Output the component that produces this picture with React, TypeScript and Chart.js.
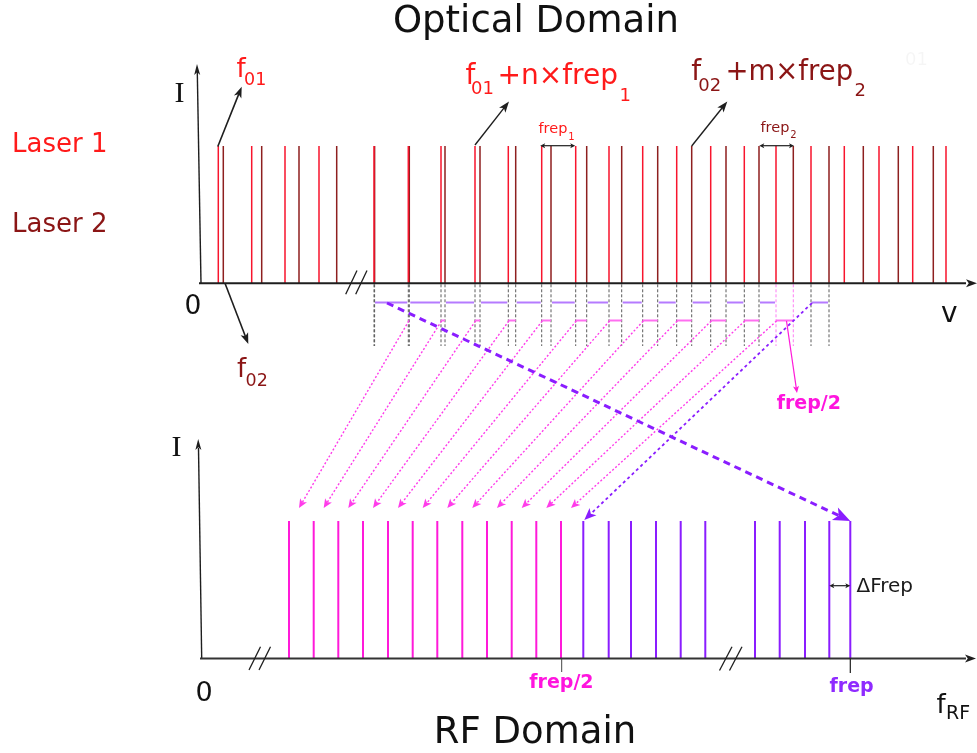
import React, { useEffect, useRef } from 'react';
import { Chart, registerables } from 'chart.js';

Chart.register(...registerables);

const W = 977;
const H = 753;

// ---- Optical domain comb lines (frequency axis, diagram units) ----
const laser1Lines = [218.3, 251.7, 285, 319, 374, 408.3, 441, 475, 508.3, 541.7, 575.7, 609, 642.7, 676.7, 710.7, 744.3, 776, 811, 844.3, 879, 912.7, 946];
const laser2Lines = [223.3, 261.7, 299, 336.7, 374.6, 409.3, 445, 480, 515.7, 551, 586.7, 621.7, 657.7, 691.7, 726, 759, 793.3, 829, 863.3, 898.3, 933.3];
const opticalBase = 283.3;
const opticalTop = 146;

// ---- Beat notes between the two combs ----
const purpleGaps: [number, number][] = [
  [374, 408.3], [409.3, 441], [445, 475], [480, 508.3], [515.7, 541.7], [551, 575.7],
  [586.7, 609], [621.7, 642.7], [657.7, 676.7], [691.7, 710.7], [726, 744.3], [759, 776], [811, 829],
];
const magentaGaps: [number, number][] = [
  [408.3, 409.3], [441, 445], [475, 480], [508.3, 515.7], [541.7, 551], [575.7, 586.7],
  [609, 621.7], [642.7, 657.7], [676.7, 691.7], [710.7, 726], [744.3, 759], [776, 793.3],
];
const frepHalfPair = [776, 793.3];

// ---- RF domain lines ----
const rfMagentaLines = [289, 313.7, 338.3, 363, 388, 412.7, 437.3, 462.3, 487, 511.7, 536.3, 561];
const rfPurpleLines = [583.3, 608.7, 631, 656, 680.7, 705.3, 755, 779.7, 805, 829.3, 850.3];
const rfBase = 658.5;
const rfTop = 521;

const RED = '#f8152d';
const RED_TXT = '#ff1a1a';
const DARK = '#8e1f1f';
const DARK_TXT = '#8b1515';
const MAG = '#ff1ad9';
const MAG_TXT = '#ff14de';
const PUR = '#8a1dff';
const PUR_TXT = '#8f2bff';
const AX = '#1e1e1e';
const SANS = '"DejaVu Sans", Verdana, sans-serif';

function combData(xs: number[], base: number, top: number) {
  const d: any[] = [];
  xs.forEach((x) => {
    d.push({ x, y: base }, { x, y: top }, { x, y: null });
  });
  return d;
}

function seg(ctx: any, x1: number, y1: number, x2: number, y2: number, color: string, width: number, dash: number[] = []) {
  ctx.save();
  ctx.strokeStyle = color;
  ctx.lineWidth = width;
  ctx.setLineDash(dash);
  ctx.beginPath();
  ctx.moveTo(x1, y1);
  ctx.lineTo(x2, y2);
  ctx.stroke();
  ctx.restore();
}

function head(ctx: any, x1: number, y1: number, x2: number, y2: number, color: string, len: number, half: number) {
  const a = Math.atan2(y2 - y1, x2 - x1);
  const c = Math.cos(a), s = Math.sin(a);
  ctx.save();
  ctx.fillStyle = color;
  ctx.beginPath();
  ctx.moveTo(x2, y2);
  ctx.lineTo(x2 - len * c + half * s, y2 - len * s - half * c);
  ctx.lineTo(x2 - len * 0.75 * c, y2 - len * 0.75 * s);
  ctx.lineTo(x2 - len * c - half * s, y2 - len * s + half * c);
  ctx.closePath();
  ctx.fill();
  ctx.restore();
}

function arrow(ctx: any, x1: number, y1: number, x2: number, y2: number, color: string, width: number, dash: number[], len: number, half: number) {
  const a = Math.atan2(y2 - y1, x2 - x1);
  const ex = x2 - Math.cos(a) * len * 0.7;
  const ey = y2 - Math.sin(a) * len * 0.7;
  seg(ctx, x1, y1, ex, ey, color, width, dash);
  head(ctx, x1, y1, x2, y2, color, len, half);
}

function dblArrow(ctx: any, x1: number, x2: number, y: number, color: string) {
  seg(ctx, x1 + 3, y, x2 - 3, y, color, 1.2);
  head(ctx, x2, y, x1, y, color, 5, 2.5);
  head(ctx, x1, y, x2, y, color, 5, 2.5);
}

function txt(ctx: any, s: string, x: number, y: number, size: number, color: string, opts: any = {}) {
  ctx.save();
  ctx.font = `${opts.bold ? 'bold ' : ''}${size}px ${opts.family || SANS}`;
  ctx.fillStyle = color;
  ctx.textAlign = opts.align || 'left';
  ctx.textBaseline = 'alphabetic';
  ctx.fillText(s, x, y);
  ctx.restore();
}

const diagramPlugin = {
  id: 'diagram',
  afterDatasetsDraw(chart: any) {
    const ctx = chart.ctx;
    const X = (v: number) => chart.scales.x.getPixelForValue(v);
    const Y = (v: number) => chart.scales.y.getPixelForValue(v);

    // ---------- axes ----------
    // optical
    seg(ctx, X(201), Y(opticalBase), X(197.3), Y(72), AX, 1.4);
    head(ctx, X(201), Y(opticalBase), X(197), Y(64), AX, 11, 3);
    seg(ctx, X(199), Y(opticalBase), X(966), Y(opticalBase), AX, 2);
    head(ctx, X(199), Y(opticalBase), X(977), Y(opticalBase), AX, 11, 4);
    // rf
    seg(ctx, X(201.7), Y(rfBase), X(198.5), Y(448), AX, 1.4);
    head(ctx, X(201.7), Y(rfBase), X(198.2), Y(439), AX, 11, 3);
    seg(ctx, X(200), Y(rfBase), X(966), Y(rfBase), '#333', 2);
    head(ctx, X(200), Y(rfBase), X(976), Y(rfBase), AX, 11, 4);

    // axis breaks
    const brk = (xa: number, y1: number, y2: number, dx: number) => {
      seg(ctx, X(xa), Y(y1), X(xa + dx), Y(y2), AX, 1.3);
      seg(ctx, X(xa + 10), Y(y1), X(xa + 10 + dx), Y(y2), AX, 1.3);
    };
    brk(345.7, 294.3, 270.5, 11.3);
    brk(249, 670, 646.7, 11.5);
    brk(719.5, 670.5, 646.7, 12.5);

    // ---------- beat gaps ----------
    purpleGaps.forEach(([a, b]) => {
      seg(ctx, X(a + 1), Y(302.5), X(b - 1), Y(302.5), '#b57aff', 2);
    });
    magentaGaps.forEach(([a, b]) => {
      seg(ctx, X(a), Y(320.5), X(b), Y(320.5), '#ff6ef0', 2);
    });

    // magenta dotted arrows optical -> RF
    magentaGaps.forEach(([a], i) => {
      arrow(ctx, X(a + 0.5), Y(321), X(rfMagentaLines[i] + 10), Y(508), '#ff3cea', 1.4, [2, 2], 9, 4);
    });

    // purple dotted arrow to frep/2 neighbour
    const lastGap = purpleGaps[purpleGaps.length - 1];
    arrow(ctx, X(lastGap[0] + 1), Y(303), X(rfPurpleLines[0] + 1), Y(520), PUR, 1.8, [3, 3], 12, 5);

    // purple dashed arrow to frep
    arrow(ctx, X(purpleGaps[0][0] + 13), Y(303), X(rfPurpleLines[rfPurpleLines.length - 1]), Y(521), PUR, 3, [7, 5], 17, 7);

    // frep/2 pointer
    arrow(ctx, X(786.5), Y(321), X(797), Y(393), MAG, 1.2, [], 7, 3);
    txt(ctx, 'frep/2', X(776.7), Y(409), 19, MAG_TXT, { bold: true });

    // ---------- optical annotations ----------
    arrow(ctx, X(laser1Lines[0] - 0.5), Y(opticalTop + 0.5), X(241.7), Y(86.7), AX, 1.6, [], 11, 4);
    arrow(ctx, X(laser2Lines[0] + 1.7), Y(opticalBase), X(248.3), Y(344), AX, 1.6, [], 11, 4);
    arrow(ctx, X(laser1Lines[7]), Y(opticalTop - 1), X(509), Y(101.5), AX, 1.4, [], 11, 4);
    arrow(ctx, X(laser2Lines[13]), Y(opticalTop), X(727.3), Y(101.5), AX, 1.4, [], 11, 4);

    dblArrow(ctx, X(laser1Lines[9] - 1.5), X(laser1Lines[10] - 0.5), Y(145.7), AX);
    dblArrow(ctx, X(laser2Lines[15] + 0.3), X(laser2Lines[16] + 0.7), Y(145.7), AX);

    // ---------- RF annotations ----------
    const half = rfMagentaLines[rfMagentaLines.length - 1];
    const full = rfPurpleLines[rfPurpleLines.length - 1];
    seg(ctx, X(half + 0.7), Y(rfBase), X(half + 0.7), Y(672), '#444', 1);
    seg(ctx, X(full), Y(rfBase), X(full), Y(673), AX, 1.2);
    dblArrow(ctx, X(rfPurpleLines[9]), X(full), Y(585.7), AX);

    // ---------- texts ----------
    txt(ctx, 'Optical Domain', X(536), Y(32.3), 37, '#111', { align: 'center' });
    txt(ctx, 'RF Domain', X(535), Y(743.3), 37, '#111', { align: 'center' });
    txt(ctx, 'Laser 1', X(12), Y(152.3), 26, RED_TXT);
    txt(ctx, 'Laser 2', X(12), Y(231.7), 26, DARK_TXT);

    const SERIF = '"Liberation Serif", "Times New Roman", serif';
    txt(ctx, 'I', X(174.5), Y(102.3), 30, '#111', { family: SERIF });
    txt(ctx, 'I', X(171.5), Y(455.5), 30, '#111', { family: SERIF });
    txt(ctx, '0', X(184.5), Y(314.3), 26.5, '#111');
    txt(ctx, '0', X(195.5), Y(701), 27, '#111');
    txt(ctx, 'v', X(941), Y(321.7), 28, '#111');
    txt(ctx, 'f', X(936.5), Y(713.3), 26, '#111');
    txt(ctx, 'RF', X(946), Y(719), 19, '#111');

    txt(ctx, 'f', X(236.5), Y(76.7), 26, RED_TXT);
    txt(ctx, '01', X(244), Y(85), 17.5, RED_TXT);
    txt(ctx, 'f', X(237), Y(377.3), 26, DARK_TXT);
    txt(ctx, '02', X(245.5), Y(385.7), 17.5, DARK_TXT);

    txt(ctx, 'f', X(465.5), Y(84.3), 28, RED_TXT);
    txt(ctx, '01', X(471), Y(94.3), 18, RED_TXT);
    txt(ctx, '+n×frep', X(497.5), Y(84.3), 28, RED_TXT);
    txt(ctx, '1', X(619.5), Y(101), 18, RED_TXT);

    txt(ctx, 'f', X(691.3), Y(80), 28, DARK_TXT);
    txt(ctx, '02', X(698.3), Y(90.7), 18, DARK_TXT);
    txt(ctx, '+m×frep', X(725.5), Y(80), 27.5, DARK_TXT);
    txt(ctx, '2', X(854.5), Y(95.5), 18, DARK_TXT);

    txt(ctx, 'frep', X(538.5), Y(133.3), 14.5, RED_TXT);
    txt(ctx, '1', X(568.3), Y(140), 10, RED_TXT);
    txt(ctx, 'frep', X(760.5), Y(131.5), 14.5, DARK_TXT);
    txt(ctx, '2', X(790.3), Y(138.3), 10, DARK_TXT);

    txt(ctx, 'frep/2', X(529.3), Y(688.3), 19, MAG_TXT, { bold: true });
    txt(ctx, 'frep', X(829.5), Y(691.7), 19, PUR_TXT, { bold: true });
    txt(ctx, 'ΔFrep', X(856.5), Y(592), 20, '#1a1a1a');

    txt(ctx, '01', X(905), Y(65), 18, 'rgba(0,0,0,0.04)');
  },
};

export default function App() {
  const ref = useRef<HTMLCanvasElement | null>(null);

  useEffect(() => {
    if (!ref.current) return;
    const guideXs = [...laser1Lines, ...laser2Lines].filter(
      (x) => x >= 370 && x <= 830 && !frepHalfPair.includes(x)
    );
    const mk = (data: any[], color: string, width: number, dash: number[] = []) => ({
      data,
      showLine: true,
      spanGaps: false,
      pointRadius: 0,
      borderColor: color,
      backgroundColor: color,
      borderWidth: width,
      borderDash: dash,
      borderCapStyle: 'butt',
    });
    const chart = new Chart(ref.current, {
      type: 'scatter',
      data: {
        datasets: [
          mk(combData(guideXs, opticalBase + 1, 346), '#5a5a5a', 1, [3, 2]),
          mk(combData(frepHalfPair, opticalBase + 1, 346), '#ff7cf4', 1, [3, 2]),
          mk(combData(laser1Lines, opticalBase, opticalTop), RED, 1.5),
          mk(combData(laser2Lines, opticalBase, opticalTop), DARK, 1.5),
          mk(combData(rfMagentaLines, rfBase, rfTop), MAG, 2),
          mk(combData(rfPurpleLines, rfBase, rfTop), PUR, 2),
        ] as any,
      },
      options: {
        animation: false,
        responsive: false,
        devicePixelRatio: 1,
        events: [],
        layout: { padding: 0 },
        plugins: {
          legend: { display: false },
          tooltip: { enabled: false },
          title: { display: false },
        },
        scales: {
          x: { type: 'linear', min: 0, max: W, display: false },
          y: { type: 'linear', min: 0, max: H, reverse: true, display: false },
        },
      } as any,
      plugins: [diagramPlugin],
    });
    return () => chart.destroy();
  }, []);

  return (
    <div style={{ position: 'fixed', left: 0, top: 0, width: W, height: H, background: '#fff' }}>
      <canvas ref={ref} width={W} height={H} style={{ display: 'block', width: W, height: H }} />
    </div>
  );
}
